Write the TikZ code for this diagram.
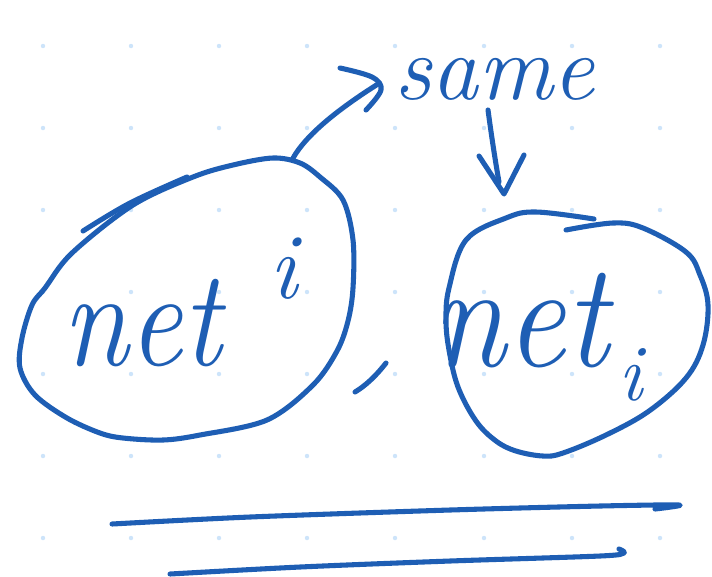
\documentclass[tikz,border=0pt]{standalone}
\definecolor{ink}{RGB}{30,94,180}
\definecolor{griddot}{RGB}{205,228,250}
\begin{document}
\begin{tikzpicture}[x=0.75pt,y=-0.75pt,
  pen/.style={draw=ink,line width=3.8pt,line cap=round,line join=round},
  hand/.style={text=ink,inner sep=0pt,outer sep=0pt}]
\useasboundingbox[fill=white] (0,0) rectangle (712,576);

% dotted paper
\foreach \x in {43,131,219,307,395,484,572,660}
  \foreach \y in {46,128,210,292,374,456,538}
    \fill[griddot] (\x,\y) circle (2.2);

% anchor points of the sketch
\coordinate (lefttop) at (292,160);
\coordinate (arrowtip) at (378,84);
\coordinate (shaftstart) at (488,110);
\coordinate (downtip) at (504,194);

% left loop around "net^i"
\draw[pen] plot[smooth cycle, tension=0.55] coordinates {
  (45,288) (72,253) (133,205) (193,177) (233,165) (273,158) (300,163)
  (320,177) (343,200) (353,240) (353,288) (348,321) (337,351) (313,385)
  (267,420) (200,435) (163,440) (123,438) (100,433) (67,418) (35,395)
  (20,368) (22,338) (32,305)};
\draw[pen] plot[smooth, tension=0.6] coordinates {(83,231) (130,203) (187,177)};

% right loop around "net_i"
\draw[pen] plot[smooth, tension=0.6] coordinates {
  (594,219) (536,212) (506,218) (466,240) (449,288) (446,320) (449,350)
  (458,387) (476,421) (496,441) (516,451) (543,456) (563,453) (606,435)
  (649,411) (686,378) (703,345) (708,305) (700,275) (686,252) (643,228)
  (613,223) (566,230)};

% curved arrow from the left loop up to "same"
\draw[pen] (lefttop) .. controls (305,135) and (340,108) .. (arrowtip);
\draw[pen] plot[smooth, tension=0.6] coordinates {(340,68) (372,77) (381,90) (366,110)};

% arrow from "same" down to the right loop
\draw[pen] (shaftstart) .. controls (492,140) and (496,165) .. (499,182);
\draw[pen] (479,156) -- (downtip) -- (524,155);

% comma between the two loops
\draw[pen] (386,363) .. controls (375,377) and (365,386) .. (355,392);

% double underline
\draw[pen] plot[smooth, tension=0.5] coordinates {(112,524) (250,517) (450,510) (600,506) (679,505) (655,509)};
\draw[pen] plot[smooth, tension=0.5] coordinates {(170,574) (300,567) (450,561) (600,556) (624,553) (619,549)};

% handwritten words
\node[hand,anchor=base west] (same) at (394,99)
  {\fontsize{70}{70}\selectfont\itshape same};
\node[hand,anchor=base west] (netL) at (62,365)
  {\scalebox{1}[1.15]{\fontsize{90}{90}\selectfont\itshape net}};
\node[hand,anchor=base] (supi) at (283,298)
  {\fontsize{70}{70}\selectfont\itshape i};
\node[hand,anchor=base west] (netR) at (432,366)
  {\scalebox{1}[1.12]{\fontsize{100}{100}\selectfont\itshape net}};
\node[hand,anchor=base] (subi) at (630,400)
  {\fontsize{60}{60}\selectfont\itshape i};
\end{tikzpicture}
\end{document}
